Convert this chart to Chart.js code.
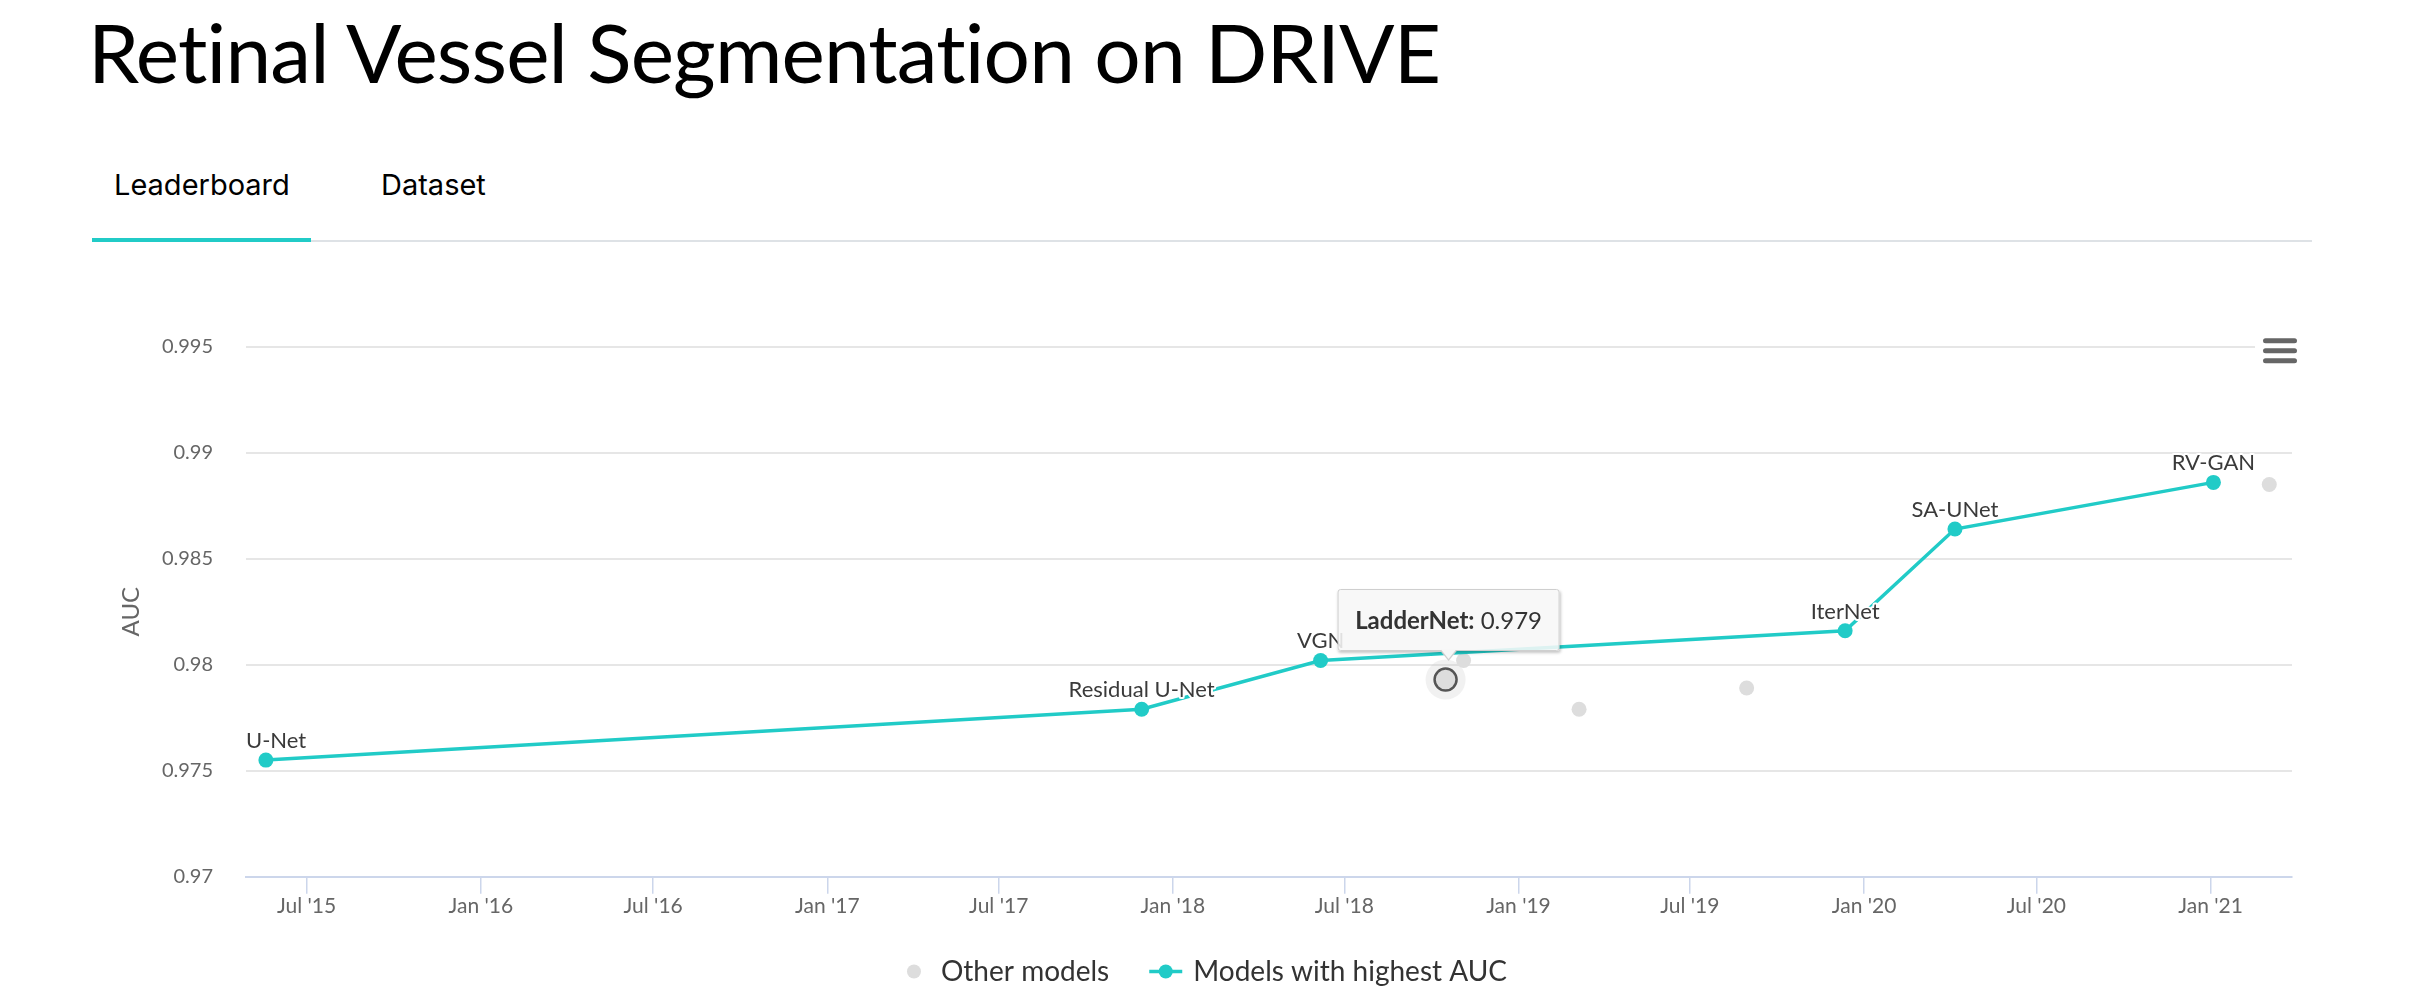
<!DOCTYPE html>
<html>
<head>
<meta charset="utf-8">
<script src="https://cdn.jsdelivr.net/npm/chart.js@4.4.1/dist/chart.umd.min.js"></script>
<style>
html,body{margin:0;padding:0;background:#fff;width:2414px;height:1000px;overflow:hidden;}
#title{position:absolute;left:88px;top:2px;margin:0;font-family:Lato,sans-serif;font-weight:400;font-size:82px;letter-spacing:-0.85px;line-height:normal;color:#000;white-space:nowrap;}
.tab{position:absolute;top:167px;font-family:Inter,'Liberation Sans',sans-serif;font-size:29px;line-height:normal;color:#000;white-space:nowrap;}
#tabline{position:absolute;left:92px;top:240px;width:2220px;height:2px;background:#dee2e6;}
#tabactive{position:absolute;left:92px;top:238px;width:219px;height:4px;background:#21cbc7;}
#wrap{position:absolute;left:0;top:300px;width:2414px;height:700px;}
#tip{position:absolute;display:none;box-sizing:border-box;height:62px;padding:0 17px;line-height:60px;font-family:Lato,sans-serif;font-size:24px;color:#333;background:rgba(247,247,247,0.88);border:1px solid #cfcfcf;border-radius:3px;box-shadow:1px 2px 3px rgba(0,0,0,0.22);white-space:nowrap;transform:translateX(-50%);}
#tip:before{content:'';position:absolute;left:50%;bottom:-11px;margin-left:-9px;border-left:9px solid transparent;border-right:9px solid transparent;border-top:11px solid #cfcfcf;}
#tip:after{content:'';position:absolute;left:50%;bottom:-9px;margin-left:-8px;border-left:8px solid transparent;border-right:8px solid transparent;border-top:10px solid #f7f7f7;}
</style>
</head>
<body>
<h1 id="title">Retinal Vessel Segmentation on DRIVE</h1>
<div class="tab" style="left:114px">Leaderboard</div>
<div class="tab" style="left:381px">Dataset</div>
<div id="tabline"></div>
<div id="tabactive"></div>
<div id="wrap"><canvas id="c" width="2414" height="700"></canvas></div>
<div id="tip"></div>
<script>
// ---- data ----
const bestNames = ['U-Net', 'Residual U-Net', 'VGN', 'IterNet', 'SA-UNet', 'RV-GAN'];
const bestDates = ['2015-05-19', '2017-11-29', '2018-06-06', '2019-12-12', '2020-04-06', '2021-01-04'];
const bestAUC   = [0.9755, 0.9779, 0.9802, 0.9816, 0.9864, 0.9886];

const otherNames = ['LadderNet', '', '', '', ''];
const otherDates = ['2018-10-16', '2018-11-04', '2019-03-06', '2019-08-30', '2021-03-04'];
const otherAUC   = [0.9793, 0.9802, 0.9779, 0.9789, 0.9885];

const xTickDates  = ['2015-07-01', '2016-01-01', '2016-07-01', '2017-01-01', '2017-07-01', '2018-01-01',
                     '2018-07-01', '2019-01-01', '2019-07-01', '2020-01-01', '2020-07-01', '2021-01-01'];
const xTickLabels = ["Jul '15", "Jan '16", "Jul '16", "Jan '17", "Jul '17", "Jan '18",
                     "Jul '18", "Jan '19", "Jul '19", "Jan '20", "Jul '20", "Jan '21"];
const xRange = ['2015-04-28', '2021-03-28'];
const yTicks = [0.97, 0.975, 0.98, 0.985, 0.99, 0.995];
const seriesLabels = ['Models with highest AUC', 'Other models'];
const hoveredOther = 0;

// ---- chart ----
const TEAL = '#21cbc7', GRAY = '#dddddd';
const ms = s => Date.parse(s + 'T00:00:00Z');
Chart.defaults.font.family = "Lato, 'Noto Sans', sans-serif";

const labelPlugin = {
  id: 'dataLabels',
  afterDatasetsDraw(chart) {
    const ctx = chart.ctx, a = chart.chartArea, meta = chart.getDatasetMeta(0);
    ctx.save();
    ctx.font = "22px Lato, 'Noto Sans', sans-serif";
    ctx.textAlign = 'center'; ctx.textBaseline = 'alphabetic'; ctx.lineJoin = 'round';
    meta.data.forEach((pt, i) => {
      const t = bestNames[i];
      const w = ctx.measureText(t).width;
      let x = Math.min(Math.max(pt.x, a.left + w / 2), a.right - w / 2);
      const y = pt.y - 12;
      ctx.lineWidth = 4; ctx.strokeStyle = '#fff'; ctx.strokeText(t, x, y);
      ctx.fillStyle = '#3a3a3a'; ctx.fillText(t, x, y);
    });
    ctx.restore();
  }
};

const haloPlugin = {
  id: 'halo',
  beforeDatasetsDraw(chart) {
    const ctx = chart.ctx;
    chart.getActiveElements().forEach(a => {
      ctx.save();
      ctx.beginPath(); ctx.arc(a.element.x, a.element.y, 20, 0, Math.PI * 2);
      ctx.fillStyle = 'rgba(200,200,200,0.25)'; ctx.fill();
      ctx.restore();
    });
  }
};

const extrasPlugin = {
  id: 'extras',
  afterDraw(chart) {
    const ctx = chart.ctx, a = chart.chartArea;
    // menu button
    ctx.save();
    ctx.fillStyle = '#fff';
    ctx.fillRect(a.right - 37, a.top - 16, 45, 42);
    ctx.strokeStyle = '#666'; ctx.lineWidth = 5; ctx.lineCap = 'round';
    [-6, 4, 14].forEach(dy => {
      ctx.beginPath(); ctx.moveTo(a.right - 26.5, a.top + dy); ctx.lineTo(a.right + 2.5, a.top + dy); ctx.stroke();
    });
    ctx.restore();
    // legend
    ctx.save();
    ctx.font = "28px Lato, 'Noto Sans', sans-serif";
    ctx.textBaseline = 'middle'; ctx.textAlign = 'left';
    const w1 = ctx.measureText(seriesLabels[1]).width, w2 = ctx.measureText(seriesLabels[0]).width;
    const total = 14 + 20 + w1 + 40 + 33 + 11 + w2;
    let x = chart.width / 2 - total / 2;
    const y = 671.5;
    ctx.fillStyle = GRAY; ctx.beginPath(); ctx.arc(x + 7, y, 7, 0, Math.PI * 2); ctx.fill();
    x += 34;
    ctx.fillStyle = '#333'; ctx.fillText(seriesLabels[1], x, y);
    x += w1 + 40;
    ctx.strokeStyle = TEAL; ctx.lineWidth = 3.5; ctx.beginPath(); ctx.moveTo(x, y); ctx.lineTo(x + 33, y); ctx.stroke();
    ctx.fillStyle = TEAL; ctx.beginPath(); ctx.arc(x + 16.5, y, 7, 0, Math.PI * 2); ctx.fill();
    x += 44;
    ctx.fillStyle = '#333'; ctx.fillText(seriesLabels[0], x, y);
    ctx.restore();
  }
};

const chart = new Chart(document.getElementById('c'), {
  type: 'scatter',
  data: {
    datasets: [
      {
        label: seriesLabels[0],
        data: bestDates.map((d, i) => ({ x: ms(d), y: bestAUC[i] })),
        showLine: true, tension: 0,
        borderColor: TEAL, backgroundColor: TEAL, borderWidth: 3.5,
        pointRadius: 7.5, pointBorderWidth: 0, pointHoverRadius: 7.5, pointHoverBorderWidth: 0,
        order: 0
      },
      {
        label: seriesLabels[1],
        data: otherDates.map((d, i) => ({ x: ms(d), y: otherAUC[i] })),
        backgroundColor: GRAY, borderColor: GRAY,
        pointRadius: 7.5, pointBorderWidth: 0,
        pointHoverRadius: 11, pointHoverBorderWidth: 2.5, pointHoverBorderColor: '#555', pointHoverBackgroundColor: GRAY,
        order: 1
      }
    ]
  },
  options: {
    responsive: false, animation: false, devicePixelRatio: 1, events: [],
    layout: { padding: { left: 100, right: 122, top: 46.7, bottom: 73.3 } },
    plugins: { legend: { display: false }, tooltip: { enabled: false } },
    scales: {
      x: {
        type: 'linear', min: ms(xRange[0]), max: ms(xRange[1]),
        afterBuildTicks: s => { s.ticks = xTickDates.map(d => ({ value: ms(d) })); },
        afterFit: s => { s.height = 50; },
        ticks: { autoSkip: false, maxRotation: 0, padding: 0, color: '#666', font: { size: 21 },
                 callback: (v, i) => xTickLabels[i] },
        grid: { drawOnChartArea: false, drawTicks: true, tickLength: 17, color: '#ccd6eb', lineWidth: 1.5 },
        border: { color: '#ccd6eb', width: 2 }
      },
      y: {
        min: yTicks[0], max: yTicks[yTicks.length - 1],
        afterBuildTicks: s => { s.ticks = yTicks.map(v => ({ value: v })); },
        afterFit: s => { s.width = 146; },
        ticks: { padding: 33, color: '#666', font: { size: 20 }, callback: v => String(+v.toFixed(3)) },
        grid: { color: '#e6e6e6', lineWidth: 2, drawTicks: false },
        border: { display: false },
        title: { display: true, text: 'AUC', color: '#666', font: { size: 24 }, padding: { top: 17, bottom: 0 } }
      }
    }
  },
  plugins: [labelPlugin, haloPlugin, extrasPlugin]
});

chart.setActiveElements([{ datasetIndex: 1, index: hoveredOther }]);
chart.render();
const el = chart.getDatasetMeta(1).data[hoveredOther];
const tip = document.getElementById('tip');
tip.innerHTML = '<b>' + otherNames[hoveredOther] + ':</b> ' + otherAUC[hoveredOther].toFixed(3);
tip.style.left = (el.x + 3) + 'px';
tip.style.top = (300 + el.y - 29 - 62) + 'px';
tip.style.display = 'block';
</script>
</body>
</html>
